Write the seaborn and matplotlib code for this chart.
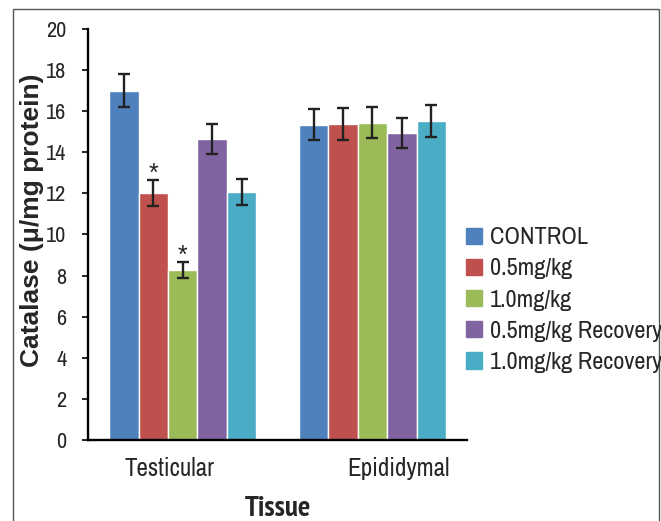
import pandas as pd
import numpy as np
import matplotlib.pyplot as plt
import matplotlib.transforms as mtransforms
from matplotlib import font_manager
from matplotlib.font_manager import FontProperties
from matplotlib.patches import Rectangle
import seaborn as sns

tissues = ["Testicular", "Epididymal"]
groups = ["CONTROL", "0.5mg/kg", "1.0mg/kg", "0.5mg/kg Recovery", "1.0mg/kg Recovery"]
testicular_mean = [17.0, 12.02, 8.27, 14.65, 12.07]
testicular_err = [0.8, 0.62, 0.4, 0.72, 0.62]
epididymal_mean = [15.33, 15.38, 15.43, 14.94, 15.52]
epididymal_err = [0.75, 0.78, 0.75, 0.73, 0.77]
colors = ["#4F81BD", "#C0504D", "#9BBB59", "#8064A2", "#4BACC6"]
starred = {("Testicular", "0.5mg/kg"), ("Testicular", "1.0mg/kg")}


def narrow_font(bold=False):
    # look for a condensed sans face (Liberation Sans Narrow, DejaVu Sans Condensed ...)
    best, best_rank = None, 99
    for f in font_manager.fontManager.ttflist:
        w = f.weight
        w = {"bold": 700, "normal": 400, "regular": 400}.get(w, w) if isinstance(w, str) else w
        if not isinstance(w, int):
            continue
        if (w >= 600) != bold or f.style != "normal":
            continue
        cond = "Narrow" in f.name or "Condensed" in f.name or f.stretch in (
            "condensed", "semi-condensed", "extra-condensed", 500 - 125, 300, 400)
        if not cond:
            continue
        if "Liberation Sans Narrow" in f.name:
            rank = 0
        elif "Narrow" in f.name:
            rank = 1
        elif "DejaVu Sans" in f.name and "Mono" not in f.name:
            rank = 2
        else:
            rank = 3
        if rank < best_rank:
            best, best_rank = f.fname, rank
    return best


reg_path = narrow_font(False)
bold_path = narrow_font(True)
scale = 1.0 if reg_path else 0.86


def fp(size, bold=False):
    path = bold_path if bold else reg_path
    if path:
        return FontProperties(fname=path, size=size)
    return FontProperties(family="Liberation Sans", size=size * scale,
                          weight="bold" if bold else "normal")


rows = []
for t, means, errs in [("Testicular", testicular_mean, testicular_err),
                       ("Epididymal", epididymal_mean, epididymal_err)]:
    for g, m, e in zip(groups, means, errs):
        rows.append({"Tissue": t, "Group": g, "Catalase": m, "err": e})
df = pd.DataFrame(rows)

sns.set_style("white")
plt.rcParams['font.family'] = ['Liberation Sans', 'DejaVu Sans']

fig = plt.figure(figsize=(6.61, 5.21), dpi=100)
ax = fig.add_axes([0.133, 0.1555, 0.574, 0.789])

sns.barplot(data=df, x="Tissue", y="Catalase", hue="Group", order=tissues,
            hue_order=groups, palette=colors, width=0.775, errorbar=None,
            saturation=1, ax=ax)

# error bars and asterisks from bar positions
for gi, g in enumerate(groups):
    cont = ax.containers[gi]
    for ti, t in enumerate(tissues):
        p = cont.patches[ti]
        row = df[(df.Tissue == t) & (df.Group == g)].iloc[0]
        xc = p.get_x() + p.get_width() / 2
        ax.errorbar(xc, row.Catalase, yerr=row.err, fmt="none", ecolor="#222222",
                    elinewidth=1.7, capsize=4.5, capthick=1.7)
        if (t, g) in starred:
            ax.text(xc, row.Catalase + row.err - 0.05, "*", ha="center", va="baseline",
                    fontsize=18, color="#222222", family="Liberation Sans")

ax.set_xlim(-0.5, 1.5)
ax.set_ylim(0, 20)
ax.set_yticks(range(0, 21, 2))
ax.tick_params(axis="y", direction="out", length=4.5, width=1.2, color="black",
               pad=11, left=True)
ax.tick_params(axis="x", length=0, pad=12)
for lab in ax.get_yticklabels():
    lab.set_fontproperties(fp(16))
for lab, dx in zip(ax.get_xticklabels(), [-13, 26]):
    lab.set_fontproperties(fp(18))
    lab.set_transform(lab.get_transform() +
                      mtransforms.ScaledTranslation(dx / 100, 0, fig.dpi_scale_trans))

sns.despine(ax=ax)
for s in ["left", "bottom"]:
    ax.spines[s].set_color("black")
    ax.spines[s].set_linewidth(1.7)

ax.set_ylabel("Catalase (μ/mg protein)", fontsize=19, fontweight="bold",
              family=["Liberation Sans", "DejaVu Sans"])
ax.yaxis.set_label_coords(-0.117, 0.535)
ax.set_xlabel("Tissue", fontproperties=fp(21, bold=True), labelpad=12)

ax.get_legend().remove()
handles = [Rectangle((0, 0), 1, 1, color=c) for c in colors]
fig.legend(handles, groups, loc="center left", bbox_to_anchor=(0.690, 0.424),
           frameon=False, prop=fp(17.5), handlelength=0.65, handleheight=0.65,
           handletextpad=0.35, labelspacing=0.42, borderaxespad=0)

fig.patches.append(Rectangle((0.019, -0.02), 0.978, 1.0028, transform=fig.transFigure,
                             fill=False, edgecolor="#555555", linewidth=1.0))

fig.savefig("out.png", dpi=100)
